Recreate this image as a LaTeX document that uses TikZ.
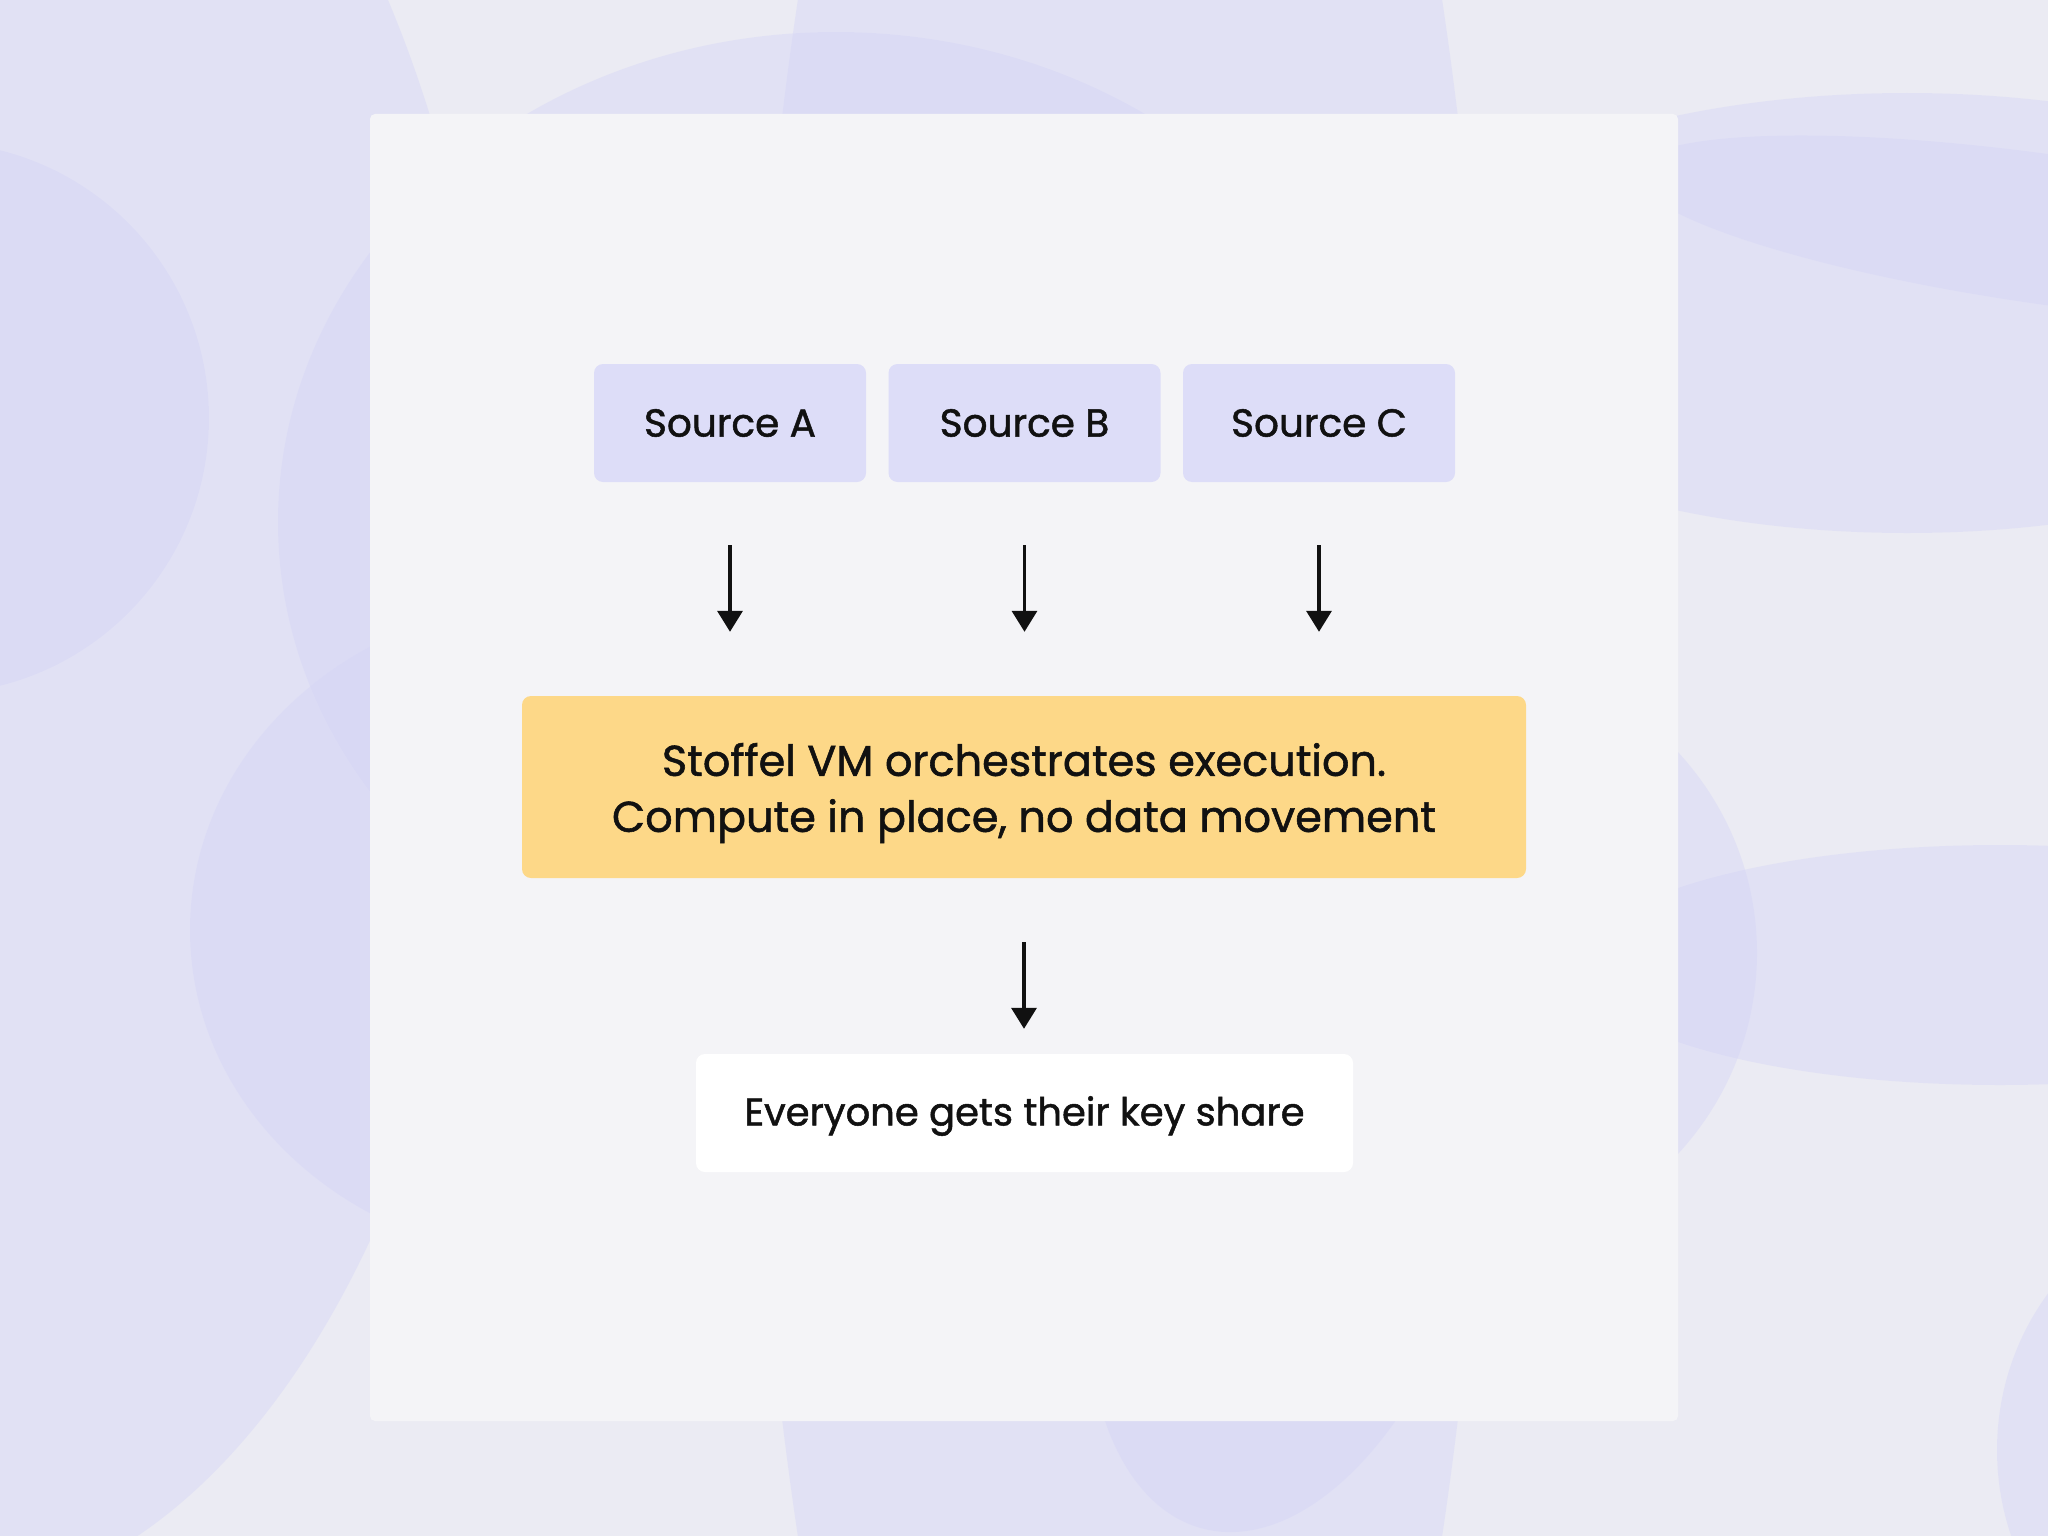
\documentclass[tikz,border=0pt]{standalone}
\usepackage{fontspec}
\setmainfont{Poppins}[FakeBold=1.3]
\usetikzlibrary{arrows.meta}
\definecolor{bgbase}{HTML}{EBEBF3}
\definecolor{blob}{HTML}{D4D4F6}
\definecolor{panel}{HTML}{F4F4F7}
\definecolor{srcfill}{HTML}{DDDDF8}
\definecolor{corefill}{HTML}{FDD888}
\definecolor{ink}{HTML}{111111}
\tikzset{
  blobstyle/.style={fill=blob, fill opacity=0.4, draw=none},
  boxbase/.style={rounded corners=9pt, inner sep=0pt},
  srcbox/.style={boxbase, fill=srcfill, minimum width=272pt, minimum height=118pt, text=ink, font=\fontsize{39}{46}\selectfont},
  corebox/.style={boxbase, fill=corefill, minimum width=1004pt, minimum height=182pt},
  outbox/.style={boxbase, fill=white, minimum width=657pt, minimum height=118pt},
  coretext/.style={inner sep=0pt, text=ink, align=center, font=\fontsize{43}{56}\selectfont},
  outtext/.style={inner sep=0pt, text=ink, font=\fontsize{38.5}{46}\selectfont},
  flow/.style={draw=ink, line width=3.5pt, -{Triangle[width=25pt,length=21pt]}}
}
\begin{document}
\begin{tikzpicture}[x=1pt,y=-1pt]
\useasboundingbox (0,0) rectangle (2048,1536);
\fill[bgbase] (0,0) rectangle (2048,1536);
\begin{scope}
\clip (0,0) rectangle (2048,1536);
\fill[blobstyle] (-67,418) ellipse [x radius=276, y radius=276];
\fill[blobstyle] (-60,600) ellipse [x radius=560, y radius=1000];
\fill[blobstyle] (836,522) ellipse [x radius=558, y radius=490];
\fill[blobstyle] (560,930) ellipse [x radius=370, y radius=330];
\fill[blobstyle] (1120,768) ellipse [x radius=375, y radius=1500];
\fill[blobstyle] (1907,313) ellipse [x radius=520, y radius=220];
\fill[blobstyle, rotate around={-8:(2050,230)}] (2050,230) ellipse [x radius=420, y radius=75];
\fill[blobstyle] (2000,965) ellipse [x radius=420, y radius=120];
\fill[blobstyle] (1450,953) ellipse [x radius=307, y radius=300];
\fill[blobstyle] (2250,1450) ellipse [x radius=253, y radius=260];
\fill[blobstyle, rotate around={-15:(1290,1200)}] (1290,1200) ellipse [x radius=190, y radius=340];
\end{scope}
\fill[panel, rounded corners=5pt] (370,114) rectangle (1678,1421);
\node[srcbox] (A) at (730,423) {Source A};
\node[srcbox] (B) at (1024.5,423) {Source B};
\node[srcbox] (C) at (1319,423) {Source C};
\node[corebox] (core) at (1024,787) {};
\node[coretext] (coreT) at (1024,793) {Stoffel VM orchestrates execution.\\Compute in place, no data movement};
\node[outbox] (out) at (1024.5,1113) {};
\node[outtext] (outT) at (1024.5,1116) {Everyone gets their key share};
\draw[flow, shorten <=63pt, shorten >=64pt] (A.south) -- (A.south |- core.north);
\draw[flow, shorten <=63pt, shorten >=64pt] (B.south) -- (B.south |- core.north);
\draw[flow, shorten <=63pt, shorten >=64pt] (C.south) -- (C.south |- core.north);
\draw[flow, shorten <=64pt, shorten >=25pt] (core.south) -- (core.south |- out.north);
\end{tikzpicture}
\end{document}
